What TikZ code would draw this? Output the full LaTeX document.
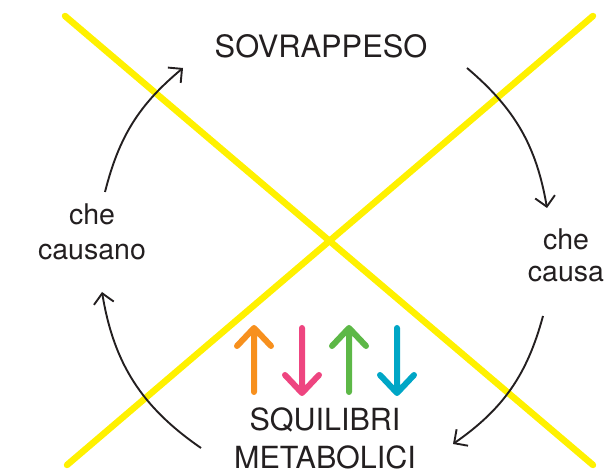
\documentclass[tikz,border=0pt]{standalone}
\usepackage{fontspec}
\setmainfont{TeX Gyre Heros}
\usetikzlibrary{arrows.meta}
\definecolor{ylw}{HTML}{FFF100}
\definecolor{ink}{HTML}{231F20}
\definecolor{orng}{HTML}{F7901E}
\definecolor{pnk}{HTML}{EE4580}
\definecolor{grn}{HTML}{5DB847}
\definecolor{cyn}{HTML}{00A6C6}
\begin{document}
\begin{tikzpicture}[x=1pt,y=1pt,
  cross/.style={ylw, line width=6.5pt, line cap=round},
  cyclearrow/.style={ink, line width=1.9pt, -{Straight Barb[length=10pt,width=20pt,line width=1.9pt]}},
  lbl/.style={text=ink, inner sep=0pt, align=center, anchor=north},
  updown/.style={line width=6pt, line cap=round, line join=round}]
\useasboundingbox (0,0) rectangle (614,474);
% yellow cross
\draw[cross] (65,458) -- (593,9);
\draw[cross] (67,9) -- (593,458);
% texts
\node[lbl, font=\fontsize{30.8}{36}\selectfont] (top) at (321,440) {SOVRAPPESO};
\node[lbl, font=\fontsize{28.5}{35}\selectfont] (left) at (92,270) {che\\causano};
\node[lbl, font=\fontsize{28.5}{32}\selectfont] (right) at (566,245) {che\\causa};
\node[lbl, font=\fontsize{30.5}{38}\selectfont] (bottom) at (325,66) {SQUILIBRI\\METABOLICI};
% cycle arrow ends
\coordinate (a1s) at (105,282); \coordinate (a1e) at (183,406);
\coordinate (a2s) at (467,406); \coordinate (a2e) at (547,266);
\coordinate (a3s) at (543,158); \coordinate (a3e) at (453,30);
\coordinate (a4s) at (201,26);  \coordinate (a4e) at (102,182);
\draw[cyclearrow] (a1s) to[bend left=18] (a1e);
\draw[cyclearrow] (a2s) to[bend left=20] (a2e);
\draw[cyclearrow] (a3s) to[bend left=20] (a3e);
\draw[cyclearrow] (a4s) to[bend left=23] (a4e);
% coloured up/down arrows
\draw[updown, orng] (254,82) -- (254,146) (237,128) -- (254,146) -- (271,128);
\draw[updown, pnk] (302,146) -- (302,81) (285,99) -- (302,81) -- (319,99);
\draw[updown, grn] (349,82) -- (349,146) (332,128) -- (349,146) -- (366,128);
\draw[updown, cyn] (397,146) -- (397,81) (380,99) -- (397,81) -- (414,99);
\end{tikzpicture}
\end{document}
